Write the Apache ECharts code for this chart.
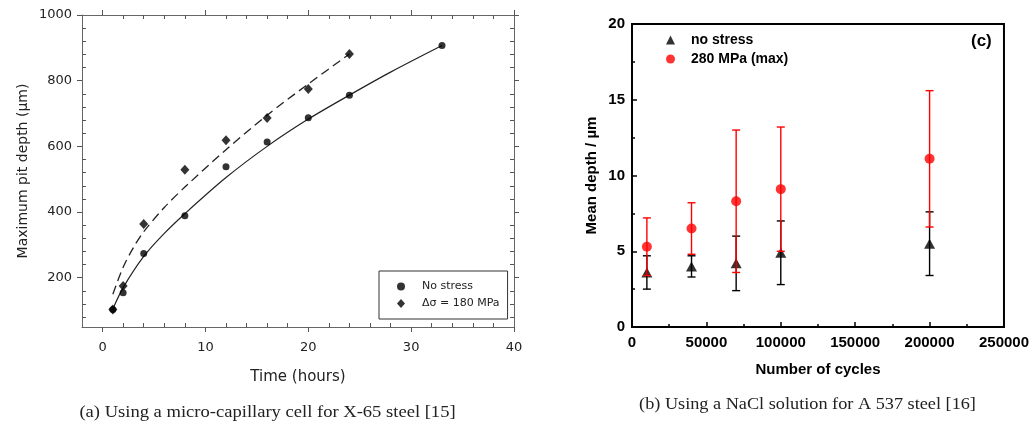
<!DOCTYPE html>
<html><head><meta charset="utf-8">
<script src="https://cdn.jsdelivr.net/npm/echarts@6/dist/echarts.min.js"></script>
<style>html,body{margin:0;padding:0;background:#fff}#c{width:1032px;height:430px}</style>
</head><body><div id="c"></div>
<script>
// ---- Panel (a): micro-capillary cell, X-65 steel ----
const timeNoStress = [1, 2, 4, 8, 12, 16, 20, 24, 33];
const depthNoStress = [103, 154, 274, 389, 538, 613, 687, 756, 907];
const timeStress = [1, 2, 4, 8, 12, 16, 20, 24];
const depthStress = [103, 175, 364, 529, 619, 686, 775, 881];
const fitTimeNoStress = [1, 2, 4, 6, 8, 12, 16, 20, 24, 28, 33];
const fitDepthNoStress = [105, 170, 265, 335, 395, 505, 600, 683, 756, 826, 907];
const fitTimeStress = [1, 2, 3, 4, 6, 8, 12, 16, 20, 24];
const fitDepthStress = [150, 232, 292, 340, 414, 476, 590, 695, 790, 881];
const timeTicks = [0, 10, 20, 30, 40];
const timeMinorTicks = [2, 4, 6, 8, 12, 14, 16, 18, 22, 24, 26, 28, 32, 34, 36, 38];
const depthTicks = [200, 400, 600, 800, 1000];
const depthMinorTicks = [80, 120, 160, 240, 280, 320, 360, 440, 480, 520, 560, 640, 680, 720, 760, 840, 880, 920, 960];
// ---- Panel (b): NaCl solution, A 537 steel ----
const cycles = [10000, 40000, 70000, 100000, 200000];
const meanNoStress = [3.6, 4.0, 4.2, 4.9, 5.5];
const lowNoStress = [2.5, 3.3, 2.4, 2.8, 3.4];
const highNoStress = [4.7, 4.7, 6.0, 7.0, 7.6];
const mean280 = [5.3, 6.5, 8.3, 9.1, 11.1];
const low280 = [3.4, 4.8, 3.6, 5.0, 6.6];
const high280 = [7.2, 8.2, 13.0, 13.2, 15.6];

const zip = (a, b) => a.map((v, i) => [v, b[i]]);
const FA = 'DejaVu Sans';
const FB = 'Liberation Sans';
const grayAxis = '#666';

function leftX(position, ticks, inside, len, showLabel, showLine) {
  return {
    type: 'value', gridIndex: 0, position, min: -2, max: 40,
    axisLine: { show: showLine, onZero: false, lineStyle: { color: grayAxis, width: 1 } },
    axisTick: { show: true, inside, length: len, customValues: ticks, lineStyle: { color: '#555', width: 1 } },
    axisLabel: showLabel ? { show: true, customValues: timeTicks, margin: 14, fontFamily: FA, fontSize: 13, color: '#222', formatter: v => String(v) } : { show: false },
    splitLine: { show: false }
  };
}
function leftY(position, ticks, inside, len, showLabel, showLine) {
  return {
    type: 'value', gridIndex: 0, position, min: 50, max: 1000,
    axisLine: { show: showLine, onZero: false, lineStyle: { color: grayAxis, width: 1 } },
    axisTick: { show: true, inside, length: len, customValues: ticks, lineStyle: { color: '#555', width: 1 } },
    axisLabel: showLabel ? { show: true, customValues: depthTicks, margin: 10, fontFamily: FA, fontSize: 13, color: '#222', formatter: v => String(v) } : { show: false },
    splitLine: { show: false }
  };
}

const xA0 = leftX('bottom', timeTicks, false, 5, true, true);
xA0.name = 'Time (hours)'; xA0.nameLocation = 'middle'; xA0.nameGap = 43;
xA0.nameTextStyle = { fontFamily: FA, fontSize: 15, color: '#222' };
const yA0 = leftY('left', depthTicks, false, 5, true, true);
yA0.name = 'Maximum pit depth (\u00b5m)'; yA0.nameLocation = 'middle'; yA0.nameGap = 52;
yA0.nameTextStyle = { fontFamily: FA, fontSize: 14, color: '#222' };

function errorBars(name, color, lows, highs, z) {
  return {
    type: 'custom', name, xAxisIndex: 4, yAxisIndex: 4, z, silent: true,
    data: cycles.map((c, i) => [c, lows[i], highs[i]]),
    encode: { x: 0, y: [1, 2] },
    renderItem(params, api) {
      const lo = api.coord([api.value(0), api.value(1)]);
      const hi = api.coord([api.value(0), api.value(2)]);
      const w = 4;
      const st = { stroke: color, lineWidth: 1.4 };
      return { type: 'group', children: [
        { type: 'line', shape: { x1: hi[0], y1: hi[1], x2: lo[0], y2: lo[1] }, style: st },
        { type: 'line', shape: { x1: hi[0] - w, y1: hi[1], x2: hi[0] + w, y2: hi[1] }, style: st },
        { type: 'line', shape: { x1: lo[0] - w, y1: lo[1], x2: lo[0] + w, y2: lo[1] }, style: st }
      ]};
    }
  };
}

const option = {
  animation: false,
  backgroundColor: '#fff',
  grid: [
    { left: 82, top: 15, width: 432, height: 312, show: false },
    { left: 632, top: 24, width: 373, height: 303, show: true, borderColor: '#000', borderWidth: 2 }
  ],
  xAxis: [
    xA0,
    leftX('bottom', timeMinorTicks, true, 4, false, false),
    leftX('top', timeTicks, false, 5, false, true),
    leftX('top', timeMinorTicks, true, 4, false, false),
    {
      type: 'value', gridIndex: 1, position: 'bottom', min: 0, max: 250000, interval: 50000,
      axisLine: { show: true, onZero: false, lineStyle: { color: '#000', width: 2 } },
      axisTick: { show: true, inside: true, length: 5, lineStyle: { color: '#000', width: 1.5 } },
      minorTick: { show: true, splitNumber: 2, length: 3, lineStyle: { color: '#000', width: 1.5 } },
      axisLabel: { margin: 8, fontFamily: FB, fontWeight: 'bold', fontSize: 15, color: '#000', formatter: v => String(v) },
      splitLine: { show: false },
      name: 'Number of cycles', nameLocation: 'middle', nameGap: 35,
      nameTextStyle: { fontFamily: FB, fontWeight: 'bold', fontSize: 15, color: '#000' }
    }
  ],
  yAxis: [
    yA0,
    leftY('left', depthMinorTicks, true, 4, false, false),
    leftY('right', depthTicks, false, 5, false, true),
    leftY('right', depthMinorTicks, true, 4, false, false),
    {
      type: 'value', gridIndex: 1, position: 'left', min: 0, max: 20, interval: 5,
      axisLine: { show: true, onZero: false, lineStyle: { color: '#000', width: 2 } },
      axisTick: { show: true, inside: true, length: 5, lineStyle: { color: '#000', width: 1.5 } },
      minorTick: { show: true, splitNumber: 2, length: 3, lineStyle: { color: '#000', width: 1.5 } },
      axisLabel: { margin: 7, fontFamily: FB, fontWeight: 'bold', fontSize: 15, color: '#000' },
      splitLine: { show: false },
      name: 'Mean depth / \u00b5m', nameLocation: 'middle', nameGap: 33,
      nameTextStyle: { fontFamily: FB, fontWeight: 'bold', fontSize: 15, color: '#000' }
    }
  ],
  legend: [
    {
      data: ['No stress', '\u0394\u03c3 = 180 MPa'],
      orient: 'vertical', left: 379, top: 271,
      padding: [8, 8, 8, 18], itemGap: 2, itemWidth: 8, itemHeight: 9,
      borderColor: '#333', borderWidth: 1, backgroundColor: '#fff',
      textStyle: { fontFamily: FA, fontSize: 11, color: '#222', lineHeight: 15, padding: [0, 0, 0, 12] },
      selectedMode: false
    },
    {
      data: ['no stress', '280 MPa (max)'],
      orient: 'vertical', left: 666, top: 32,
      padding: 0, itemGap: 3, itemWidth: 9, itemHeight: 9,
      textStyle: { fontFamily: FB, fontWeight: 'bold', fontSize: 14, color: '#000', lineHeight: 16, padding: [0, 0, 0, 11] },
      selectedMode: false
    }
  ],
  graphic: [
    { type: 'text', left: 985 - 14, top: 33, style: { text: '(c)', font: 'bold 17px "Liberation Sans"', fill: '#000' } },
    { type: 'text', x: 267.5, y: 413, scaleX: 1.16, style: { text: '(a) Using a micro-capillary cell for X-65 steel [15]', font: '16px "Liberation Serif"', fill: '#222', align: 'center', verticalAlign: 'middle' } },
    { type: 'text', x: 807.5, y: 405, scaleX: 1.14, style: { text: '(b) Using a NaCl solution for A 537 steel [16]', font: '16px "Liberation Serif"', fill: '#222', align: 'center', verticalAlign: 'middle' } }
  ],
  series: [
    {
      type: 'line', name: 'fit no stress', xAxisIndex: 0, yAxisIndex: 0,
      data: zip(fitTimeNoStress, fitDepthNoStress), showSymbol: false, smooth: 0.3,
      lineStyle: { color: '#222', width: 1.2 }, silent: true, z: 2
    },
    {
      type: 'line', name: 'fit stress', xAxisIndex: 0, yAxisIndex: 0,
      data: zip(fitTimeStress, fitDepthStress), showSymbol: false, smooth: 0.3,
      lineStyle: { color: '#222', width: 1.3, type: [9, 5] }, silent: true, z: 2
    },
    {
      type: 'scatter', name: 'No stress', xAxisIndex: 0, yAxisIndex: 0,
      data: zip(timeNoStress, depthNoStress), symbol: 'circle', symbolSize: 7,
      itemStyle: { color: '#000' }, z: 3
    },
    {
      type: 'scatter', name: '\u0394\u03c3 = 180 MPa', xAxisIndex: 0, yAxisIndex: 0,
      data: zip(timeStress, depthStress), symbol: 'diamond', symbolSize: [9, 10],
      itemStyle: { color: '#000' }, z: 3
    },
    errorBars('no stress range', '#000', lowNoStress, highNoStress, 2),
    {
      type: 'scatter', name: 'no stress', xAxisIndex: 4, yAxisIndex: 4,
      data: zip(cycles, meanNoStress), symbol: 'triangle', symbolSize: [11, 10],
      itemStyle: { color: '#000' }, z: 3
    },
    errorBars('280 MPa range', '#ff0000', low280, high280, 4),
    {
      type: 'scatter', name: '280 MPa (max)', xAxisIndex: 4, yAxisIndex: 4,
      data: zip(cycles, mean280), symbol: 'circle', symbolSize: 10,
      itemStyle: { color: '#ff0000' }, z: 5
    }
  ]
};
const chart = echarts.init(document.getElementById('c'), null, { renderer: 'canvas' });
chart.setOption(option);
</script>
</body></html>
